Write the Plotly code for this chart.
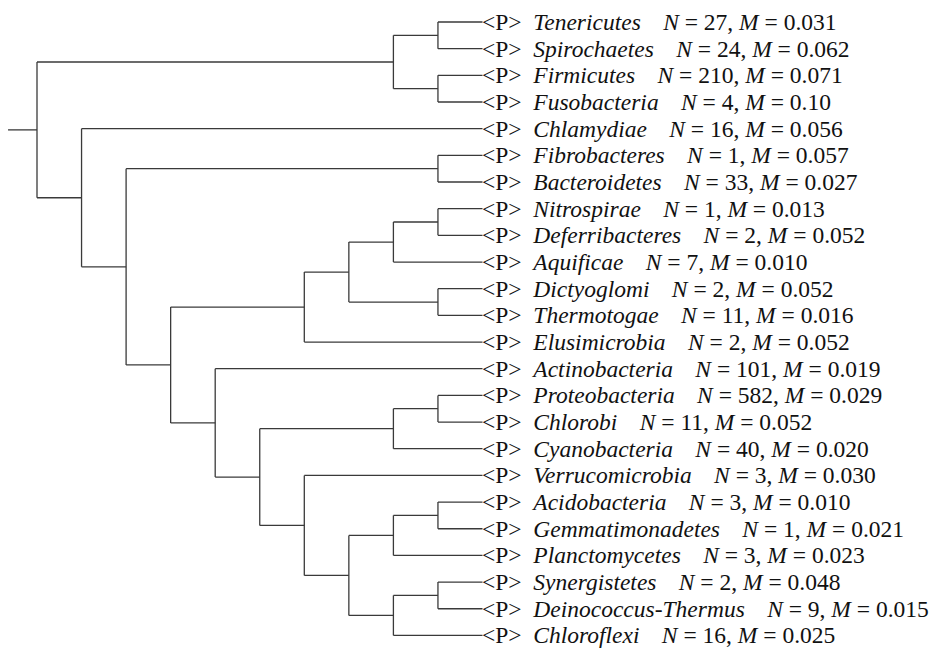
import plotly.graph_objects as go

# ---- data ----
names = ["Tenericutes", "Spirochaetes", "Firmicutes", "Fusobacteria", "Chlamydiae",
         "Fibrobacteres", "Bacteroidetes", "Nitrospirae", "Deferribacteres", "Aquificae",
         "Dictyoglomi", "Thermotogae", "Elusimicrobia", "Actinobacteria", "Proteobacteria",
         "Chlorobi", "Cyanobacteria", "Verrucomicrobia", "Acidobacteria", "Gemmatimonadetes",
         "Planctomycetes", "Synergistetes", "Deinococcus-Thermus", "Chloroflexi"]
n_vals = [27, 24, 210, 4, 16, 1, 33, 1, 2, 7, 2, 11, 2, 101, 582, 11, 40, 3, 3, 1, 3, 2, 9, 16]
m_vals = ["0.031", "0.062", "0.071", "0.10", "0.056", "0.057", "0.027", "0.013", "0.052",
          "0.010", "0.052", "0.016", "0.052", "0.019", "0.029", "0.052", "0.020", "0.030",
          "0.010", "0.021", "0.023", "0.048", "0.015", "0.025"]
# tree topology (leaf indices)
tree = (((0, 1), (2, 3)),
        (4, ((5, 6),
             (((((7, 8), 9), (10, 11)), 12),
              (13, (((14, 15), 16),
                    (17, (((18, 19), 20), ((21, 22), 23)))))))))

# ---- layout of cladogram ----
xs, ys = [], []


def draw(node, total, collect=True):
    if isinstance(node, int):
        return float(node), 0
    res = [draw(c, total, collect) for c in node]
    h = 1 + max(r[1] for r in res)
    y0, y1 = res[0][0], res[-1][0]
    if collect:
        x = total - h
        xs.extend([x, x, None])
        ys.extend([y0, y1, None])
        for cy, ch in res:
            xs.extend([x, total - ch, None])
            ys.extend([cy, cy, None])
    return (y0 + y1) / 2.0, h


root_y, root_h = draw(tree, 0, collect=False)
draw(tree, root_h)
# root stub
xs.extend([-0.65, 0, None])
ys.extend([root_y, root_y, None])

FONT = "Liberation Serif"

fig = go.Figure()
fig.add_trace(go.Scatter(x=xs, y=ys, mode="lines",
                         line=dict(color="#3a3a3a", width=1.3),
                         hoverinfo="skip", showlegend=False))

sp1 = "\u00a0\u00a0"
sp2 = "\u00a0\u00a0\u00a0\u2009"
for i, (nm, n, m) in enumerate(zip(names, n_vals, m_vals)):
    txt = f"&lt;P&gt;{sp1}<i>{nm}</i>{sp2}<i>N</i> = {n}, <i>M</i> = {m}"
    fig.add_annotation(x=root_h, y=i, text=txt, showarrow=False,
                       xanchor="left", yanchor="middle", xshift=-3, yshift=0,
                       font=dict(family=FONT, size=23.5, color="#111111"))

# page has an 8px body margin; figure is placed so marks land at target pixels
W, H, OFF = 930, 640, 8
step = 44.55
x_root = 37 - OFF
x0 = -x_root / step
x1 = (W - x_root) / step
ystep = 26.67
y_first = 22 - OFF
ytop = -y_first / ystep
ybot = (H - y_first) / ystep

fig.update_layout(width=W, height=H, margin=dict(l=0, r=0, t=0, b=0),
                  font=dict(family=FONT),
                  paper_bgcolor="white", plot_bgcolor="white",
                  xaxis=dict(range=[x0, x1], visible=False, fixedrange=True),
                  yaxis=dict(range=[ybot, ytop], visible=False, fixedrange=True))

fig.write_html("out.html", config={"displayModeBar": False})
